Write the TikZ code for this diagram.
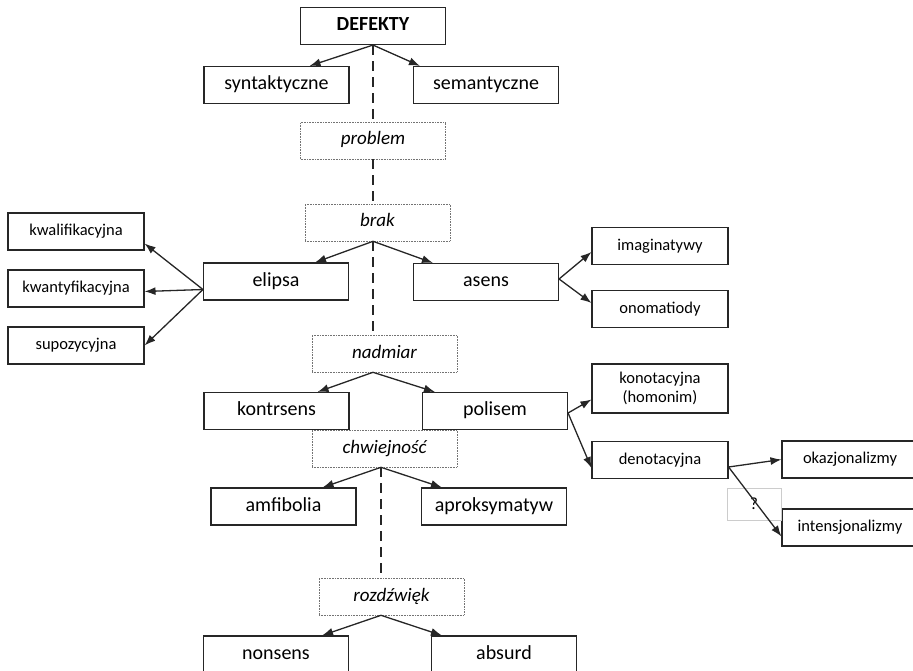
\documentclass[tikz,border=0pt]{standalone}
\usepackage{fontspec}
\setmainfont{Carlito}
\usetikzlibrary{arrows.meta}

\tikzset{
  duzy/.style={draw=black!85, line width=1.1pt, minimum width=145pt, minimum height=37pt,
    inner sep=0pt, text height=13pt, text depth=4pt, font=\fontsize{20}{23}\selectfont},
  maly/.style={draw=black!85, line width=1.1pt, minimum width=136pt, minimum height=37pt,
    inner sep=0pt, font=\fontsize{16.5}{19}\selectfont},
  relacja/.style={draw=black!55, densely dotted, line width=0.6pt, minimum width=145pt,
    minimum height=37pt, inner sep=0pt, text height=13pt, text depth=4pt,
    font=\fontsize{19}{22}\selectfont\itshape},
  strz/.style={-{Latex[length=11pt,width=8pt]}, line width=1.3pt, draw=black!85},
  os/.style={line width=2.8pt, draw=black!85, dash pattern=on 10pt off 6pt}
}

\begin{document}
\begin{tikzpicture}[x=1pt,y=-1pt]
    \useasboundingbox (0,0) rectangle (913,671);
    \clip (0,0) rectangle (913,671);
    % Korzeń
    \node[duzy, font=\fontsize{20}{23}\selectfont\bfseries] (defekty) at (373,26) {DEFEKTY};
    \node[duzy] (syn) at (276.5,85) {syntaktyczne};
    \node[duzy] (sem) at (486,85) {semantyczne};
    % Relacje na osi
    \node[relacja] (problem) at (373,140.5) {problem};
    \node[relacja] (brak) at (377.5,222.5) {brak};
    \node[relacja] (nadmiar) at (384.5,353.5) {nadmiar};
    \node[relacja] (chw) at (384.5,448.5) {chwiejność};
    \node[relacja] (rozd) at (391.5,596.5) {rozdźwięk};
    % Brak
    \node[duzy] (elipsa) at (276,281.5) {elipsa};
    \node[duzy] (asens) at (486,282) {asens};
    \node[maly] (kwal) at (76,231.5) {kwalifikacyjna};
    \node[maly] (kwant) at (76,288.5) {kwantyfikacyjna};
    \node[maly] (supoz) at (76,345.5) {supozycyjna};
    \node[maly] (imag) at (660,246) {imaginatywy};
    \node[maly] (onom) at (660,309) {onomatiody};
    % Nadmiar
    \node[maly, align=center, minimum height=49pt] (konot) at (660,388.5) {konotacyjna\\(homonim)};
    \node[duzy] (kontr) at (276.5,411) {kontrsens};
    \node[duzy] (polisem) at (495,411) {polisem};
    \node[maly] (denot) at (660,460) {denotacyjna};
    \node[maly] (okaz) at (850,459.5) {okazjonalizmy};
    \node[maly] (inten) at (850,527.5) {intensjonalizmy};
    \node[draw=black!20, line width=0.6pt, minimum width=54pt, minimum height=32pt,
      font=\fontsize{17}{19}\selectfont] (pyt) at (754,504) {?};
    % Chwiejność i rozdźwięk
    \node[duzy] (amfi) at (283.5,506.5) {amfibolia};
    \node[duzy] (aprok) at (494,506.5) {aproksymatyw};
    \node[duzy] (nonsens) at (276,654.5) {nonsens};
    \node[duzy] (absurd) at (504,654.5) {absurd};
    % Oś przerywana
    \draw[os] (defekty.south) -- (defekty.south |- problem.north);
    \draw[os] (problem.south) -- (problem.south |- brak.north);
    \draw[os] (defekty.south |- brak.south) -- (defekty.south |- nadmiar.north);
    \draw[os] ([xshift=-3.5pt]chw.south) -- ([xshift=-3.5pt]chw.south |- rozd.north);
    % Strzałki
    \draw[strz] (defekty.south) -- ([xshift=-40pt]syn.north east);
    \draw[strz] (defekty.south) -- ([xshift=7pt]sem.north west);
    \draw[strz] ([xshift=-4.5pt]brak.south) -- ([xshift=-34pt]elipsa.north east);
    \draw[strz] ([xshift=-4.5pt]brak.south) -- ([xshift=20pt]asens.north west);
    \draw[strz] ([yshift=-8pt]elipsa.west) -- ([yshift=-12pt]kwal.east);
    \draw[strz] ([yshift=-8pt]elipsa.west) -- ([yshift=-3pt]kwant.east);
    \draw[strz] ([yshift=-8pt]elipsa.west) -- (supoz.east);
    \draw[strz] ([yshift=3pt]asens.east) -- ([yshift=-6pt]imag.west);
    \draw[strz] ([yshift=3pt]asens.east) -- ([yshift=6pt]onom.west);
    \draw[strz] ([xshift=-11.5pt]nadmiar.south) -- ([xshift=-32pt]kontr.north east);
    \draw[strz] ([xshift=-11.5pt]nadmiar.south) -- ([xshift=13pt]polisem.north west);
    \draw[strz] ([yshift=-2pt]polisem.east) -- ([yshift=-11pt]konot.west);
    \draw[strz] ([yshift=-2pt]polisem.east) -- ([yshift=-8pt]denot.west);
    \draw[strz] ([yshift=-7pt]denot.east) -- (okaz.west);
    \draw[strz] ([yshift=-7pt]denot.east) -- ([yshift=-9pt]inten.west);
    \draw[strz] ([xshift=-3.5pt]chw.south) -- ([xshift=-34pt]amfi.north east);
    \draw[strz] ([xshift=-3.5pt]chw.south) -- ([xshift=21pt]aprok.north west);
    \draw[strz] ([xshift=-10.5pt]rozd.south) -- ([xshift=-27pt]nonsens.north east);
    \draw[strz] ([xshift=-10.5pt]rozd.south) -- ([xshift=11pt]absurd.north west);
\end{tikzpicture}
\end{document}
